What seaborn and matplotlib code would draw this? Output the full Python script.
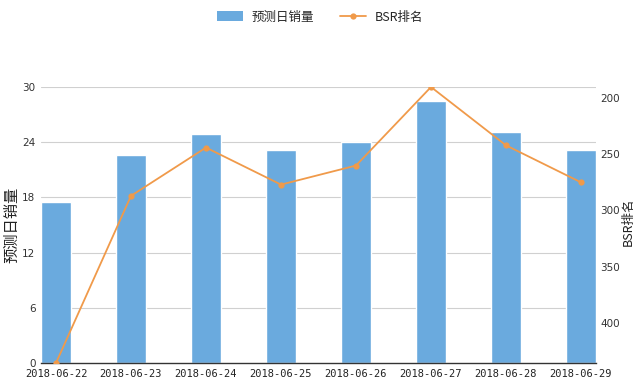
import matplotlib
matplotlib.use("Agg")
import matplotlib.pyplot as plt
import seaborn as sns
import numpy as np
import pandas as pd
from matplotlib.lines import Line2D
from matplotlib.patches import Patch

dates = ["2018-06-22", "2018-06-23", "2018-06-24", "2018-06-25",
         "2018-06-26", "2018-06-27", "2018-06-28", "2018-06-29"]
sales = [17.5, 22.6, 24.9, 23.1, 24.0, 28.5, 25.1, 23.2]
bsr = [436, 287, 244, 277, 260, 190, 242, 275]
left_ticks = [0, 6, 12, 18, 24, 30]
right_ticks = [200, 250, 300, 350, 400]

sns.set_theme(style="white")
plt.rcParams['font.family'] = ['Noto Sans CJK SC', 'DejaVu Sans']

BAR = "#6aaade"
LINE = "#f09a4a"

fig = plt.figure(figsize=(6.4, 3.85), dpi=100)
ax = fig.add_axes([41/640, 1-363/385, (596-41)/640, (363-87)/385])
df = pd.DataFrame({"date": dates, "sales": sales, "bsr": bsr})
sns.barplot(data=df, x="date", y="sales", color=BAR, width=0.4, ax=ax, saturation=1)
ax.set_xlim(-0.2, len(dates) - 0.8)
ax.set_ylim(0, 30)
ax.set_yticks(left_ticks)
ax.set_yticklabels([str(t) for t in left_ticks], fontsize=7.5, family='DejaVu Sans', color="#333333")
ax.set_xticks(range(len(dates)))
ax.set_xticklabels(dates, fontsize=7.5, family='DejaVu Sans Mono', color="#222222")
ax.tick_params(axis='both', length=0, pad=4)
ax.set_xlabel("")
ax.set_ylabel("预测日销量", fontsize=11, color="#222222")
ax.yaxis.set_label_coords(-0.038, 0.5)
for t in left_ticks[1:]:
    ax.axhline(t, color="#d0d0d0", lw=0.8, zorder=0)
for s in ["top", "right", "left"]:
    ax.spines[s].set_visible(False)
ax.spines["bottom"].set_color("#333333")
ax.spines["bottom"].set_linewidth(1.0)
ax.set_axisbelow(True)

ax2 = ax.twinx()
sns.lineplot(x=np.arange(len(dates)), y=bsr, ax=ax2, color=LINE, marker="o",
             markersize=4.5, markeredgewidth=0, linewidth=1.3, sort=False)
ax2.set_ylim(max(bsr), min(bsr))
ax2.set_yticks(right_ticks)
ax2.set_yticklabels([str(t) for t in right_ticks], fontsize=7.5, family='DejaVu Sans', color="#333333")
ax2.tick_params(axis='y', length=0, pad=3)
ax2.set_ylabel("BSR排名", fontsize=9, color="#222222")
ax2.yaxis.set_label_coords(1.047, 0.51)
for s in ["top", "right", "left", "bottom"]:
    ax2.spines[s].set_visible(False)
ax2.set_xlim(-0.2, len(dates) - 0.8)

handles = [Patch(facecolor=BAR, edgecolor='none'),
           Line2D([0], [0], color=LINE, lw=1.3, marker='o', markersize=4.5, markeredgewidth=0)]
fig.legend(handles, ["预测日销量", "BSR排名"], loc="center", bbox_to_anchor=(0.5, 1-17/385),
           ncol=2, frameon=False, fontsize=9, handlelength=2.1, handleheight=0.9,
           columnspacing=2.0, handletextpad=0.7)

fig.savefig("out.png", dpi=100)
